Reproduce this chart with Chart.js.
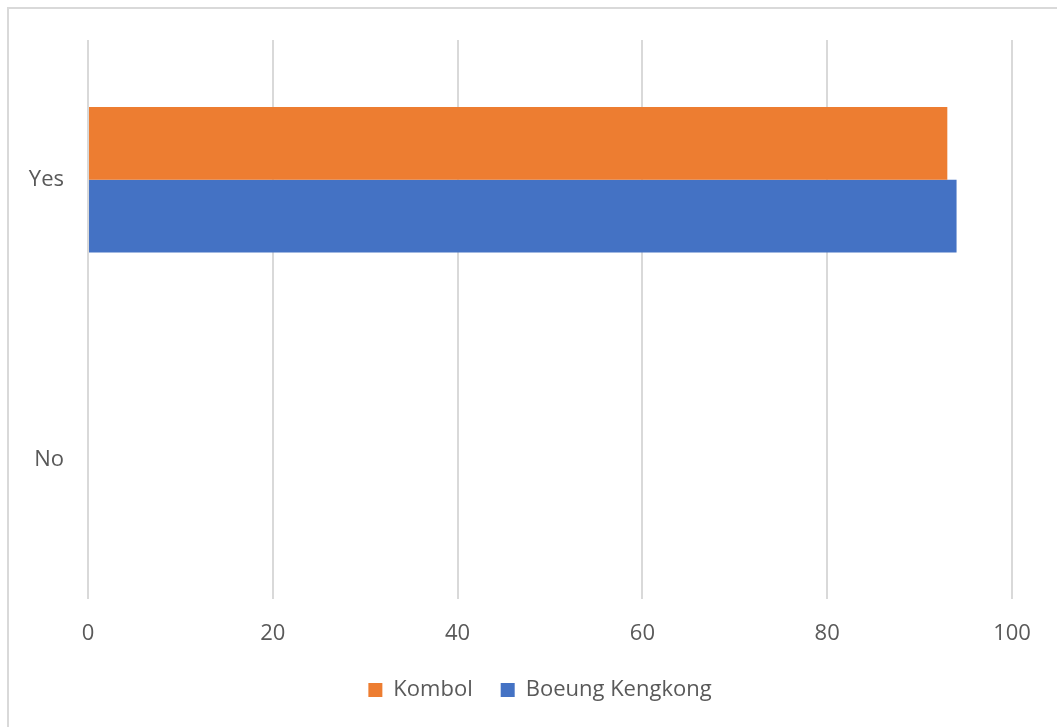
<!DOCTYPE html>
<html>
<head>
<meta charset="utf-8">
<script src="https://cdn.jsdelivr.net/npm/chart.js@4/dist/chart.umd.min.js"></script>
<style>
  html, body { margin: 0; padding: 0; background: #ffffff; }
  #wrap { width: 1057px; height: 727px; position: relative; }
</style>
</head>
<body>
<div id="wrap"><canvas id="c" width="1057" height="727"></canvas></div>
<script>
const categories = ["Yes", "No"];
const seriesNames = ["Kombol", "Boeung Kengkong"];
const kombolValues = [93, 0];
const boeungValues = [94, 0];
const xTicks = [0, 20, 40, 60, 80, 100];

const frame = {
  id: 'frame',
  beforeDraw(chart) {
    const ctx = chart.ctx;
    ctx.save();
    ctx.fillStyle = '#ffffff';
    ctx.fillRect(0, 0, chart.width, chart.height);
    ctx.strokeStyle = '#d9d9d9';
    ctx.lineWidth = 2;
    ctx.strokeRect(8, 8, chart.width + 20, chart.height + 20);
    ctx.restore();
  }
};

const legendShift = {
  id: 'legendShift',
  afterLayout(chart) {
    if (chart.legend) { chart.legend.left += 68; }
  }
};

Chart.defaults.font.family = "'Open Sans', 'Liberation Sans', sans-serif";
Chart.defaults.font.size = 22;
Chart.defaults.color = '#595959';

new Chart(document.getElementById('c'), {
  type: 'bar',
  data: {
    labels: categories,
    datasets: [
      { label: seriesNames[0], data: kombolValues, backgroundColor: '#ED7D31', borderWidth: 0 },
      { label: seriesNames[1], data: boeungValues, backgroundColor: '#4472C4', borderWidth: 0 }
    ]
  },
  options: {
    indexAxis: 'y',
    responsive: false,
    animation: false,
    devicePixelRatio: 1,
    categoryPercentage: 0.52,
    barPercentage: 1.0,
    layout: { padding: { top: 40, right: 45, left: 0, bottom: 16 } },
    plugins: {
      legend: {
        position: 'bottom',
        labels: {
          boxWidth: 14,
          boxHeight: 14,
          padding: 28,
          font: { size: 22 },
          color: '#595959'
        }
      },
      tooltip: { enabled: false }
    },
    scales: {
      x: {
        min: 0,
        max: 100,
        afterBuildTicks(scale) { scale.ticks = xTicks.map(v => ({ value: v })); },
        afterFit(scale) { scale.height = 52; },
        grid: { color: '#d9d9d9', lineWidth: 2, drawTicks: false },
        border: { display: false },
        ticks: { padding: 22, font: { size: 22 }, color: '#595959' }
      },
      y: {
        afterFit(scale) { scale.width = 88; },
        grid: { display: false, drawTicks: false },
        border: { display: false },
        ticks: { padding: 24, font: { size: 22 }, color: '#595959' }
      }
    }
  },
  plugins: [frame, legendShift]
});
</script>
</body>
</html>
